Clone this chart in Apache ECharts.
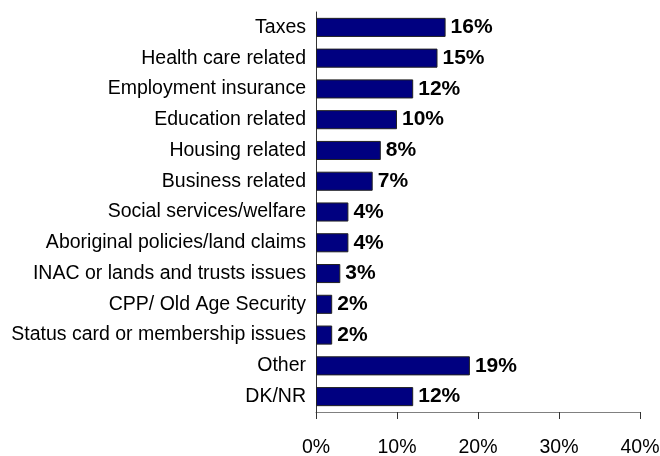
<!DOCTYPE html>
<html>
<head>
<meta charset="utf-8">
<script src="https://cdn.jsdelivr.net/npm/echarts@6/dist/echarts.min.js"></script>
<style>
  html, body { margin: 0; padding: 0; background: #fff; }
  #chart { width: 660px; height: 456px; }
</style>
</head>
<body>
<div id="chart"></div>
<script>
// Issue categories, top to bottom
const categories = [
  'Taxes',
  'Health care related',
  'Employment insurance',
  'Education related',
  'Housing related',
  'Business related',
  'Social services/welfare',
  'Aboriginal policies/land claims',
  'INAC or lands and trusts issues',
  'CPP/ Old Age Security',
  'Status card or membership issues',
  'Other',
  'DK/NR'
];
// Share of respondents (%)
const shares = [16, 15, 12, 10, 8, 7, 4, 4, 3, 2, 2, 19, 12];
// Horizontal axis ticks (%)
const ticks = [0, 10, 20, 30, 40];

const sans = "'Liberation Sans', Arial, sans-serif";

const chart = echarts.init(document.getElementById('chart'), null, { renderer: 'canvas' });
chart.setOption({
  animation: false,
  grid: {
    left: 316, right: 20, top: 12, bottom: 44,
    containLabel: false,
    outerBoundsMode: 'none'
  },
  xAxis: {
    type: 'value',
    min: ticks[0],
    max: ticks[ticks.length - 1],
    interval: ticks[1] - ticks[0],
    splitLine: { show: false },
    axisLine: { show: true, lineStyle: { color: '#808080', width: 1 } },
    axisTick: { show: true, length: 7, lineStyle: { color: '#333' } },
    axisLabel: {
      margin: 26,
      color: '#000',
      fontFamily: sans,
      fontSize: 19.5,
      formatter: v => v + '%'
    }
  },
  yAxis: {
    type: 'category',
    data: categories,
    inverse: true,
    axisLine: { show: true, lineStyle: { color: '#333', width: 1 } },
    axisTick: { show: false },
    axisLabel: {
      margin: 10,
      color: '#000',
      fontFamily: sans,
      fontSize: 19.5
    }
  },
  series: [{
    type: 'bar',
    data: shares,
    barCategoryGap: '38%',
    itemStyle: { color: '#000080', borderColor: '#222', borderWidth: 1 },
    label: {
      show: true,
      position: 'right',
      distance: 5,
      color: '#000',
      fontFamily: sans,
      fontWeight: 'bold',
      fontSize: 21,
      formatter: p => p.value + '%'
    }
  }]
});
</script>
</body>
</html>
